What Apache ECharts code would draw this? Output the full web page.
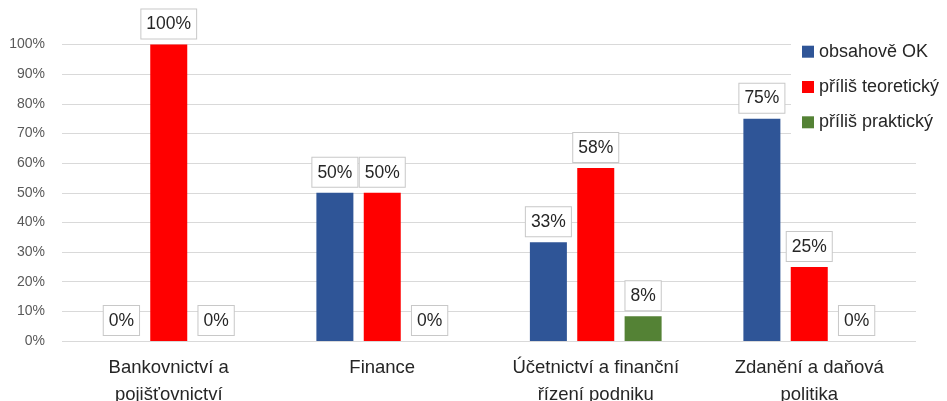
<!DOCTYPE html>
<html>
<head>
<meta charset="utf-8">
<script src="https://cdn.jsdelivr.net/npm/echarts@6/dist/echarts.min.js"></script>
<style>html,body{margin:0;padding:0;background:#fff}#c{width:947px;height:401px}</style>
</head>
<body>
<div id="c"></div>
<script>
const categories = ['Bankovnictví a\npojišťovnictví', 'Finance', 'Účetnictví a finanční\nřízení podniku', 'Zdanění a daňová\npolitika'];
const seriesNames = ['obsahově OK', 'příliš teoretický', 'příliš praktický'];
const obsahoveOK = [0, 0.5, 0.3333, 0.75];
const prilisTeoreticky = [1, 0.5, 0.5833, 0.25];
const prilisPrakticky = [0, 0, 0.0833, 0];
const colors = ['#2F5597', '#FF0000', '#548235'];
const FONT = 'Liberation Sans';

const chart = echarts.init(document.getElementById('c'));
const label = {
  show: true, position: 'top', distance: 6,
  formatter: p => Math.round(p.value * 100) + '%',
  color: '#262626', fontSize: 17.5, fontFamily: FONT,
  backgroundColor: '#fff', borderColor: '#c8c8c8', borderWidth: 1,
  padding: [6, 5, 5, 5]
};
function mk(i, data) {
  return {
    name: seriesNames[i], type: 'bar', data: data,
    barWidth: 37, barGap: '28%',
    itemStyle: { color: colors[i] },
    label: label
  };
}
chart.setOption({
  animation: false,
  grid: { left: 62, right: 31, top: 44.5, bottom: 60, containLabel: false, outerBoundsMode: 'none' },
  legend: {
    orient: 'vertical', left: 791, top: 35.7,
    itemWidth: 12, itemHeight: 12, itemGap: 15.3, icon: 'rect',
    backgroundColor: '#fff', padding: [6, 5, 5, 11],
    textStyle: { fontSize: 18, lineHeight: 20, fontFamily: FONT, color: '#262626' },
    data: seriesNames
  },
  xAxis: {
    type: 'category', data: categories,
    axisLine: { show: false }, axisTick: { show: false },
    axisLabel: { interval: 0, hideOverlap: false, fontSize: 18.5, fontFamily: FONT, color: '#262626', margin: 13.5, lineHeight: 27 }
  },
  yAxis: {
    type: 'value', min: 0, max: 1, interval: 0.1,
    axisLabel: { formatter: v => Math.round(v * 100) + '%', fontSize: 14, fontFamily: FONT, color: '#595959', margin: 17 },
    splitLine: { lineStyle: { color: '#d9d9d9', width: 1 } },
    axisLine: { show: false }, axisTick: { show: false }
  },
  series: [mk(0, obsahoveOK), mk(1, prilisTeoreticky), mk(2, prilisPrakticky)]
});
</script>
</body>
</html>
